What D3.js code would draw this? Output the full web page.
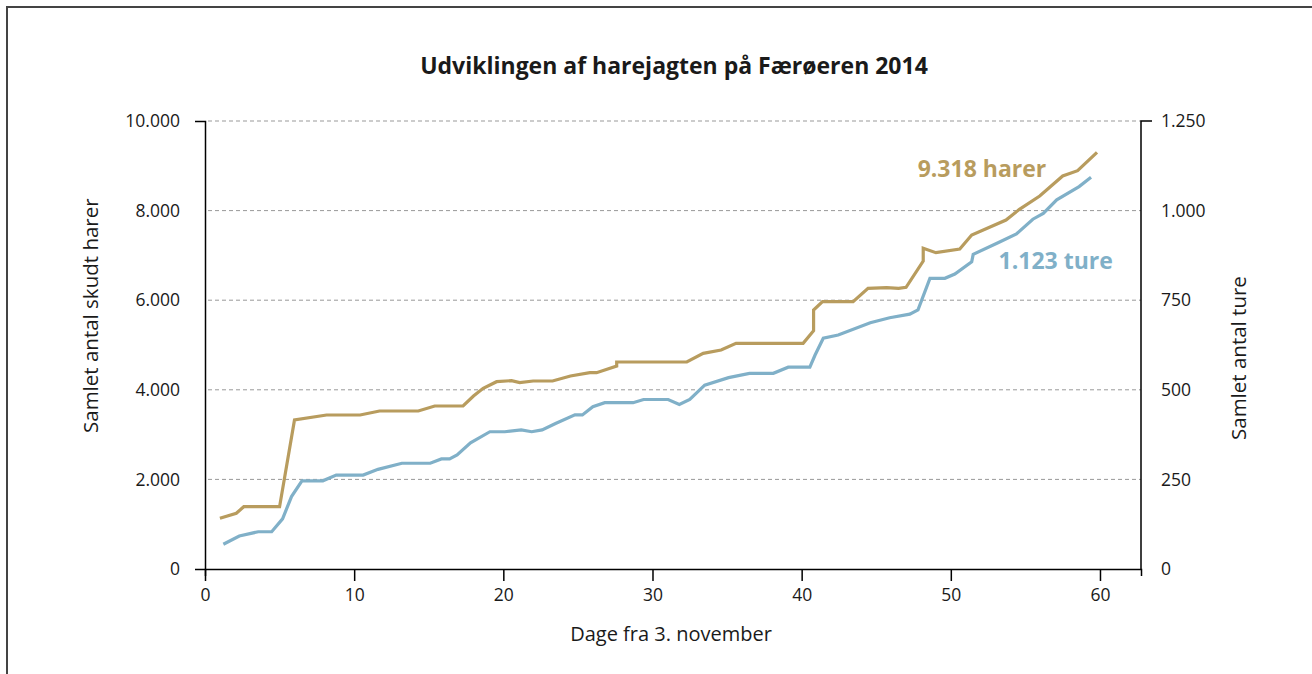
<!DOCTYPE html>
<html>
<head>
<meta charset="utf-8">
<script src="https://cdn.jsdelivr.net/npm/d3@7"></script>
<style>
  body { margin: 0; background: #fff; }
  text { font-family: "Open Sans", "Noto Sans", sans-serif; fill: #1a1a1a; }
</style>
</head>
<body>
<div id="chart"></div>
<script>
const width = 1312;
const height = 674;

// harer: cumulative hares shot (left axis)
const harerDays = [1.0, 2.1, 2.6, 5.0, 6.0, 8.15, 10.4, 11.7, 14.3, 15.4, 17.3, 18.0, 18.65, 19.55, 20.55, 21.1, 22.0, 23.3, 24.5, 25.8, 26.25, 27.6, 27.6, 29.2, 32.3, 33.4, 34.6, 35.6, 40.1, 40.8, 40.8, 41.4, 43.45, 44.45, 45.7, 46.5, 47.0, 48.15, 48.15, 49.0, 50.6, 51.4, 53.7, 54.6, 55.96, 57.5, 58.5, 59.8];
const harer = [1131, 1243, 1391, 1391, 3326, 3437, 3437, 3527, 3527, 3638, 3638, 3862, 4033, 4181, 4204, 4159, 4196, 4196, 4308, 4382, 4382, 4531, 4621, 4621, 4621, 4814, 4888, 5037, 5037, 5320, 5781, 5967, 5967, 6265, 6280, 6265, 6287, 6875, 7158, 7061, 7143, 7455, 7790, 8029, 8326, 8772, 8891, 9301];

// ture: cumulative trips (right axis)
const tureDays = [1.23, 2.3, 3.57, 4.47, 5.2, 5.8, 6.5, 7.9, 8.8, 10.6, 11.6, 13.2, 15.1, 15.85, 16.4, 16.9, 17.8, 19.1, 20.1, 21.2, 21.9, 22.6, 23.5, 24.8, 25.3, 26.0, 26.8, 28.7, 29.4, 31.05, 31.8, 32.5, 33.5, 35.1, 36.5, 38.1, 39.1, 40.55, 40.9, 41.45, 42.45, 44.6, 45.9, 47.25, 47.8, 48.6, 49.6, 50.27, 51.4, 51.5, 53.2, 54.4, 55.5, 56.2, 57.1, 58.6, 59.4];
const ture = [69, 92, 104, 104, 140, 202, 246, 246, 262, 262, 278, 295, 295, 307, 307, 318, 352, 383, 383, 388, 383, 388, 406, 430, 430, 453, 464, 464, 473, 473, 459, 473, 513, 534, 546, 546, 563, 563, 597, 644, 653, 687, 701, 711, 723, 811, 811, 823, 857, 878, 911, 935, 976, 992, 1030, 1067, 1093];

const xTicks = [0, 10, 20, 30, 40, 50, 60];
const leftTicks = [0, 2000, 4000, 6000, 8000, 10000];
const rightTicks = [0, 250, 500, 750, 1000, 1250];

const title = "Udviklingen af harejagten på Færøeren 2014";
const xTitle = "Dage fra 3. november";
const leftTitle = "Samlet antal skudt harer";
const rightTitle = "Samlet antal ture";
const harerLabel = "9.318 harer";
const tureLabel = "1.123 ture";

const gold = "#b89c5e";
const blue = "#80b0c8";

const margin = { left: 205, right: 171, top: 121, bottom: 105 };

const fmt = d3.formatLocale({ decimal: ",", thousands: ".", grouping: [3] }).format(",");

const svg = d3
  .select("#chart")
  .append("svg")
  .attr("width", width)
  .attr("height", height);

svg
  .append("rect")
  .attr("x", 7)
  .attr("y", 7)
  .attr("width", 1320)
  .attr("height", 720)
  .attr("fill", "none")
  .attr("stroke", "#444")
  .attr("stroke-width", 2);

const xScale = d3
  .scaleLinear()
  .domain([0, 62.75])
  .range([margin.left, width - margin.right]);

const yLeft = d3
  .scaleLinear()
  .domain([0, 10000])
  .range([height - margin.bottom, margin.top]);

const yRight = d3
  .scaleLinear()
  .domain([0, 1250])
  .range([height - margin.bottom, margin.top]);

// grid
svg
  .append("g")
  .selectAll("line")
  .data(leftTicks.filter((d) => d > 0))
  .join("line")
  .attr("x1", margin.left + 3)
  .attr("x2", width - margin.right)
  .attr("y1", (d) => yLeft(d))
  .attr("y2", (d) => yLeft(d))
  .attr("stroke", "#999")
  .attr("stroke-width", 1)
  .attr("stroke-dasharray", "4,3");

const axisFont = (g) =>
  g
    .selectAll("text")
    .attr("font-size", 17.5)
    .attr("font-family", "'Open Sans', sans-serif")
    .attr("fill", "#1a1a1a");

svg
  .append("g")
  .attr("transform", `translate(${margin.left},0)`)
  .call(
    d3.axisLeft(yLeft).tickValues(leftTicks).tickFormat(fmt).tickSizeInner(0).tickSizeOuter(10).tickPadding(25)
  )
  .call(axisFont)
  .call((g) => g.select(".domain").attr("stroke", "#000").attr("stroke-width", 1.5));

svg
  .append("g")
  .attr("transform", `translate(${width - margin.right},0)`)
  .call(
    d3.axisRight(yRight).tickValues(rightTicks).tickFormat(fmt).tickSizeInner(0).tickSizeOuter(11).tickPadding(20)
  )
  .call(axisFont)
  .call((g) =>
    g
      .select(".domain")
      .attr("stroke", "#000")
      .attr("stroke-width", 1.5)
      .attr("d", `M11,${yRight(1250)}H0V${yRight(0)}`)
  );

svg
  .append("g")
  .attr("transform", `translate(0,${height - margin.bottom})`)
  .call(d3.axisBottom(xScale).tickValues(xTicks).tickSizeInner(12).tickSizeOuter(7).tickPadding(8))
  .call(axisFont)
  .call((g) => g.select(".domain").attr("stroke", "#000").attr("stroke-width", 1.5))
  .call((g) => g.selectAll(".tick line").attr("stroke-width", 1.5));

// lines
const harerLine = d3
  .line()
  .x((d, i) => xScale(harerDays[i]))
  .y((d) => yLeft(d));

const tureLine = d3
  .line()
  .x((d, i) => xScale(tureDays[i]))
  .y((d) => yRight(d));

svg
  .append("path")
  .datum(ture)
  .attr("fill", "none")
  .attr("stroke", blue)
  .attr("stroke-width", 3.2)
  .attr("d", tureLine);

svg
  .append("path")
  .datum(harer)
  .attr("fill", "none")
  .attr("stroke", gold)
  .attr("stroke-width", 3.2)
  .attr("d", harerLine);

// labels
svg
  .append("text")
  .attr("x", xScale(56.4))
  .attr("y", yLeft(8760))
  .attr("text-anchor", "end")
  .attr("font-size", 23)
  .attr("font-weight", "bold")
  .style("fill", gold)
  .text(harerLabel);

svg
  .append("text")
  .attr("x", xScale(53.2))
  .attr("y", yRight(837))
  .attr("text-anchor", "start")
  .attr("font-size", 23)
  .attr("font-weight", "bold")
  .style("fill", blue)
  .text(tureLabel);

// titles
svg
  .append("text")
  .attr("x", 674)
  .attr("y", 74)
  .attr("text-anchor", "middle")
  .attr("font-size", 23)
  .attr("font-weight", "bold")
  .text(title);

svg
  .append("text")
  .attr("x", 671)
  .attr("y", 641)
  .attr("text-anchor", "middle")
  .attr("font-size", 20)
  .text(xTitle);

svg
  .append("text")
  .attr("transform", "translate(98,433) rotate(-90)")
  .attr("text-anchor", "start")
  .attr("font-size", 20.5)
  .text(leftTitle);

svg
  .append("text")
  .attr("transform", "translate(1246,440) rotate(-90)")
  .attr("text-anchor", "start")
  .attr("font-size", 20.5)
  .text(rightTitle);
</script>
</body>
</html>
